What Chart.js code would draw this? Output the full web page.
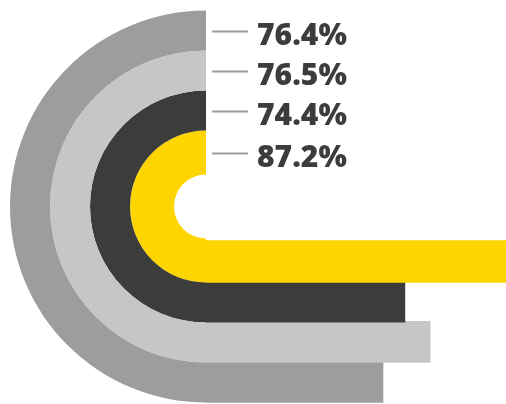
<!DOCTYPE html>
<html>
<head>
<meta charset="utf-8">
<script src="https://cdn.jsdelivr.net/npm/chart.js@4"></script>
<style>
  html, body { margin: 0; padding: 0; background: #fff; }
  #wrap { position: relative; width: 506px; height: 404px; overflow: hidden; }
  #wrap canvas { position: absolute; left: 0; top: 0; }
</style>
</head>
<body>
<div id="wrap">
  <canvas id="bars" width="506" height="404"></canvas>
  <canvas id="rings" width="506" height="404"></canvas>
</div>
<script>
// ---- data (outer ring first) ----
const categories = ['Series 1', 'Series 2', 'Series 3', 'Series 4'];
const percentValues = [76.4, 76.5, 74.4, 87.2];
const barLengths = [59.0, 74.7, 66.3, 100];   // bar extent, % of the space right of the rings

// ---- styles ----
const colors = ['#9d9d9c', '#c6c6c6', '#3c3c3b', '#ffd500'];
const ringWeights = [40, 40, 40, 44];
const barThickness = [41, 41, 42, 44];
const textColor = '#3c3c3b';
const leaderColor = '#9d9d9c';

// ---- rings (half doughnut, bottom -> left -> top) ----
const labelPlugin = {
  id: 'ringLabels',
  afterDatasetsDraw(chart) {
    const ctx = chart.ctx;
    ctx.save();
    chart.data.datasets.forEach((ds, i) => {
      const arc = chart.getDatasetMeta(i).data[0];
      const r = (arc.innerRadius + arc.outerRadius) / 2;
      const y = arc.y - r;
      ctx.strokeStyle = leaderColor;
      ctx.lineWidth = 2;
      ctx.beginPath();
      ctx.moveTo(arc.x + 6, y + 1);
      ctx.lineTo(arc.x + 42, y + 1);
      ctx.stroke();
      ctx.fillStyle = textColor;
      ctx.font = '800 30px "Open Sans"';
      ctx.textBaseline = 'alphabetic';
      ctx.textAlign = 'left';
      ctx.fillText(percentValues[i].toFixed(1) + '%', arc.x + 51, y + 14.5);
    });
    ctx.restore();
  }
};

new Chart(document.getElementById('rings'), {
  type: 'doughnut',
  data: {
    labels: ['value'],
    datasets: categories.map((c, i) => ({
      label: c,
      data: [percentValues[i]],
      backgroundColor: colors[i],
      borderWidth: 0,
      weight: ringWeights[i]
    }))
  },
  options: {
    responsive: false,
    animation: false,
    rotation: 180,
    circumference: 180,
    radius: 196,
    cutout: (32 / 196 * 100) + '%',
    layout: { padding: { left: 0, right: 290, top: 9, bottom: 0 } },
    plugins: { legend: { display: false }, tooltip: { enabled: false } },
    events: []
  },
  plugins: [labelPlugin]
});

// ---- horizontal bars continuing the rings to the right ----
new Chart(document.getElementById('bars'), {
  type: 'bar',
  data: {
    labels: categories,
    datasets: categories.map((c, i) => ({
      label: c,
      data: categories.map((_, j) => (j === i ? barLengths[i] : null)),
      backgroundColor: colors[i],
      borderWidth: 0,
      barThickness: barThickness[i],
      skipNull: true,
      order: categories.length - 1 - i
    }))
  },
  options: {
    indexAxis: 'y',
    responsive: false,
    animation: false,
    layout: { padding: { left: 206, right: 0, top: 240.17, bottom: 1.17 } },
    scales: {
      x: { type: 'linear', min: 0, max: 100, display: false, stacked: false },
      y: { type: 'category', reverse: true, display: false }
    },
    plugins: { legend: { display: false }, tooltip: { enabled: false } },
    events: []
  }
});
</script>
</body>
</html>
